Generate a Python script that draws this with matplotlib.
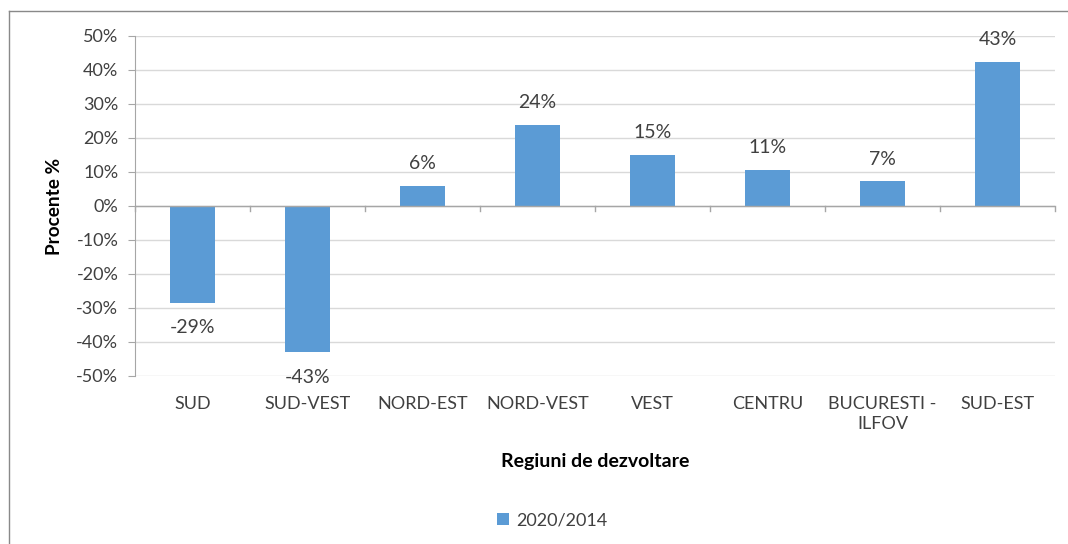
import matplotlib
matplotlib.use("Agg")
import matplotlib.pyplot as plt
from matplotlib.lines import Line2D
from matplotlib.patches import Patch

categories = ["SUD", "SUD-VEST", "NORD-EST", "NORD-VEST", "VEST", "CENTRU", "BUCURESTI -\nILFOV", "SUD-EST"]
values = [-28.5, -43.0, 5.9, 23.8, 15.0, 10.7, 7.3, 42.4]
labels = ["-29%", "-43%", "6%", "24%", "15%", "11%", "7%", "43%"]
yticks = [-50, -40, -30, -20, -10, 0, 10, 20, 30, 40, 50]
series_name = "2020/2014"

plt.rcParams['font.family'] = ['Lato', 'DejaVu Sans']
txt = '#404040'
bar_color = '#5B9BD5'

fig = plt.figure(figsize=(10.68, 5.44), dpi=100)
ax = fig.add_axes([135/1068, 1-376/544, 920/1068, 340/544])

x = list(range(len(categories)))
ax.bar(x, values, width=0.39, color=bar_color, zorder=3)
ax.set_xlim(-0.5, len(categories)-0.5)
ax.set_ylim(-50, 50)
ax.set_yticks(yticks)
ax.set_yticklabels([f"{t}%" for t in yticks], fontsize=13, color=txt)
ax.yaxis.grid(True, color='#D9D9D9', linewidth=1, zorder=0)
ax.tick_params(axis='y', length=5, color='#A6A6A6', pad=7)

for s in ['top', 'right', 'bottom']:
    ax.spines[s].set_visible(False)
ax.spines['left'].set_color('#A6A6A6')

# zero axis line with tick marks at category boundaries
ax.axhline(0, color='#A6A6A6', linewidth=1, zorder=4)
for b in range(len(categories)+1):
    ax.plot([b-0.5, b-0.5], [0, -1.5], color='#A6A6A6', linewidth=1, zorder=4, clip_on=False)

ax.set_xticks([])
for i, c in enumerate(categories):
    ax.text(i, -56.0, c, ha='center', va='top', fontsize=13, color=txt, linespacing=1.25)

for i, (v, l) in enumerate(zip(values, labels)):
    if v >= 0:
        ax.text(i, v + 6.5, l, ha='center', va='center', fontsize=14, color=txt)
    else:
        ax.text(i, v - 7.3, l, ha='center', va='center', fontsize=14, color=txt)

fig.text(55/1068, 1-206/544, "Procente %", rotation=90, ha='center', va='center',
         fontsize=13.7, fontweight='bold', color='black')
fig.text(595/1068, 1-462/544, "Regiuni de dezvoltare", ha='center', va='center',
         fontsize=14, fontweight='bold', color='black')

leg = fig.legend(handles=[Patch(facecolor=bar_color, label=series_name)],
                 loc='center', bbox_to_anchor=(552/1068, 1-520/544), frameon=False,
                 fontsize=13, handlelength=0.65, handleheight=0.65, handletextpad=0.4)
for t in leg.get_texts():
    t.set_color(txt)

# figure border (left and top visible)
fig.add_artist(Line2D([9/1068, 9/1068], [0, 1-11/544], transform=fig.transFigure, color='#898989', linewidth=1))
fig.add_artist(Line2D([9/1068, 1], [1-11/544, 1-11/544], transform=fig.transFigure, color='#898989', linewidth=1))

fig.savefig("out.png", dpi=100)
